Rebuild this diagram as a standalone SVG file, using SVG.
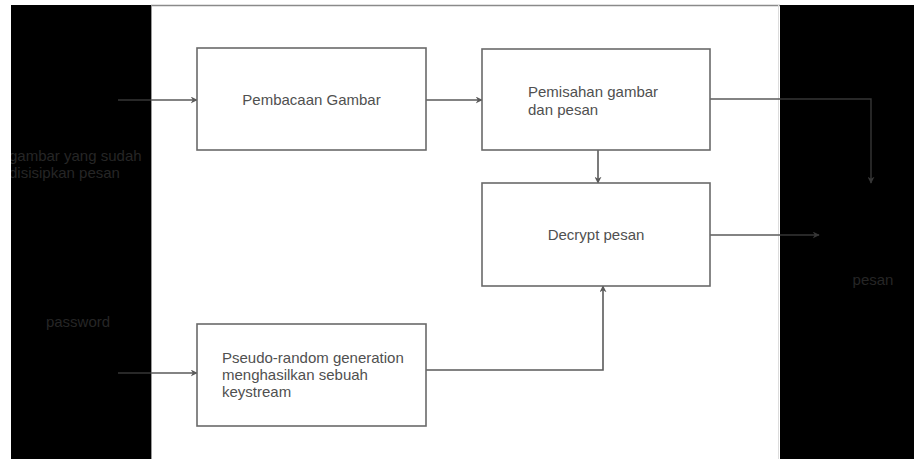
<svg xmlns="http://www.w3.org/2000/svg" width="914" height="459" viewBox="0 0 914 459">
<defs>
<style>
.box{fill:#ffffff;stroke:#6a6a6a;stroke-width:1.6}
.lbl{font-family:"Liberation Sans",Arial,sans-serif;font-size:15px;fill:#505050}
.dark{font-family:"Liberation Sans",Arial,sans-serif;font-size:15px;fill:#262626}
.con{fill:none;stroke:#5a5a5a;stroke-width:1.6}
.cond{fill:none;stroke:#363636;stroke-width:1.4}
</style>
<marker id="ah" viewBox="0 0 10 10" refX="9" refY="5" markerWidth="7" markerHeight="7" orient="auto" markerUnits="userSpaceOnUse">
<path d="M0,0 L10,5 L0,10 L3,5 Z" fill="#5a5a5a"/>
</marker>
<marker id="ahd" viewBox="0 0 10 10" refX="9" refY="5" markerWidth="7" markerHeight="7" orient="auto" markerUnits="userSpaceOnUse">
<path d="M0,0 L10,5 L0,10 L3,5 Z" fill="#363636"/>
</marker>
<clipPath id="leftclip"><rect x="11" y="5" width="140" height="454"/></clipPath>
</defs>
<rect x="0" y="0" width="914" height="459" fill="#ffffff"/>
<g id="panels">
<rect x="11" y="5" width="140" height="454" fill="#000000"/>
<rect x="780" y="5" width="134" height="454" fill="#000000"/>
<line x1="151" y1="5.5" x2="780" y2="5.5" stroke="#8a8a8a" stroke-width="1.5"/>
<line x1="151.5" y1="5" x2="151.5" y2="459" stroke="#9a9a9a" stroke-width="1"/>
<line x1="778.5" y1="5" x2="778.5" y2="459" stroke="#dddddd" stroke-width="1"/>
</g>
<g id="connectors">
<line class="cond" x1="118" y1="100" x2="151" y2="100"/>
<line class="con" x1="151" y1="100" x2="197" y2="100" marker-end="url(#ah)"/>
<line class="con" x1="426" y1="100" x2="482" y2="100" marker-end="url(#ah)"/>
<line class="con" x1="598" y1="150" x2="598" y2="183" marker-end="url(#ah)"/>
<line class="cond" x1="118" y1="373" x2="151" y2="373"/>
<line class="con" x1="151" y1="373" x2="197" y2="373" marker-end="url(#ah)"/>
<polyline class="con" points="426,370 603,370 603,286" marker-end="url(#ah)"/>
<polyline class="con" points="710,99 780,99"/>
<polyline class="cond" points="780,99 871,99 871,183" marker-end="url(#ahd)"/>
<line class="con" x1="710" y1="235" x2="780" y2="235"/>
<line class="cond" x1="780" y1="235" x2="819" y2="235" marker-end="url(#ahd)"/>
</g>
<g id="node-pembacaan">
<rect class="box" x="197" y="48" width="229" height="102"/>
<text class="lbl" x="311.5" y="105" text-anchor="middle">Pembacaan Gambar</text>
</g>
<g id="node-pemisahan">
<rect class="box" x="482" y="49" width="228" height="101"/>
<text class="lbl" x="528" y="97">Pemisahan gambar</text>
<text class="lbl" x="528" y="115">dan pesan</text>
</g>
<g id="node-decrypt">
<rect class="box" x="482" y="183" width="228" height="103"/>
<text class="lbl" x="596" y="240" text-anchor="middle">Decrypt pesan</text>
</g>
<g id="node-pseudo">
<rect class="box" x="197" y="324" width="229" height="102"/>
<text class="lbl" x="222" y="363">Pseudo-random generation</text>
<text class="lbl" x="222" y="380">menghasilkan sebuah</text>
<text class="lbl" x="222" y="397">keystream</text>
</g>
<g id="label-input" clip-path="url(#leftclip)">
<text class="dark" x="9" y="161">gambar yang sudah</text>
<text class="dark" x="9" y="178">disisipkan pesan</text>
</g>
<g id="label-password">
<text class="dark" x="78" y="327" text-anchor="middle">password</text>
</g>
<g id="label-pesan">
<text class="dark" x="873" y="285" text-anchor="middle">pesan</text>
</g>
</svg>
